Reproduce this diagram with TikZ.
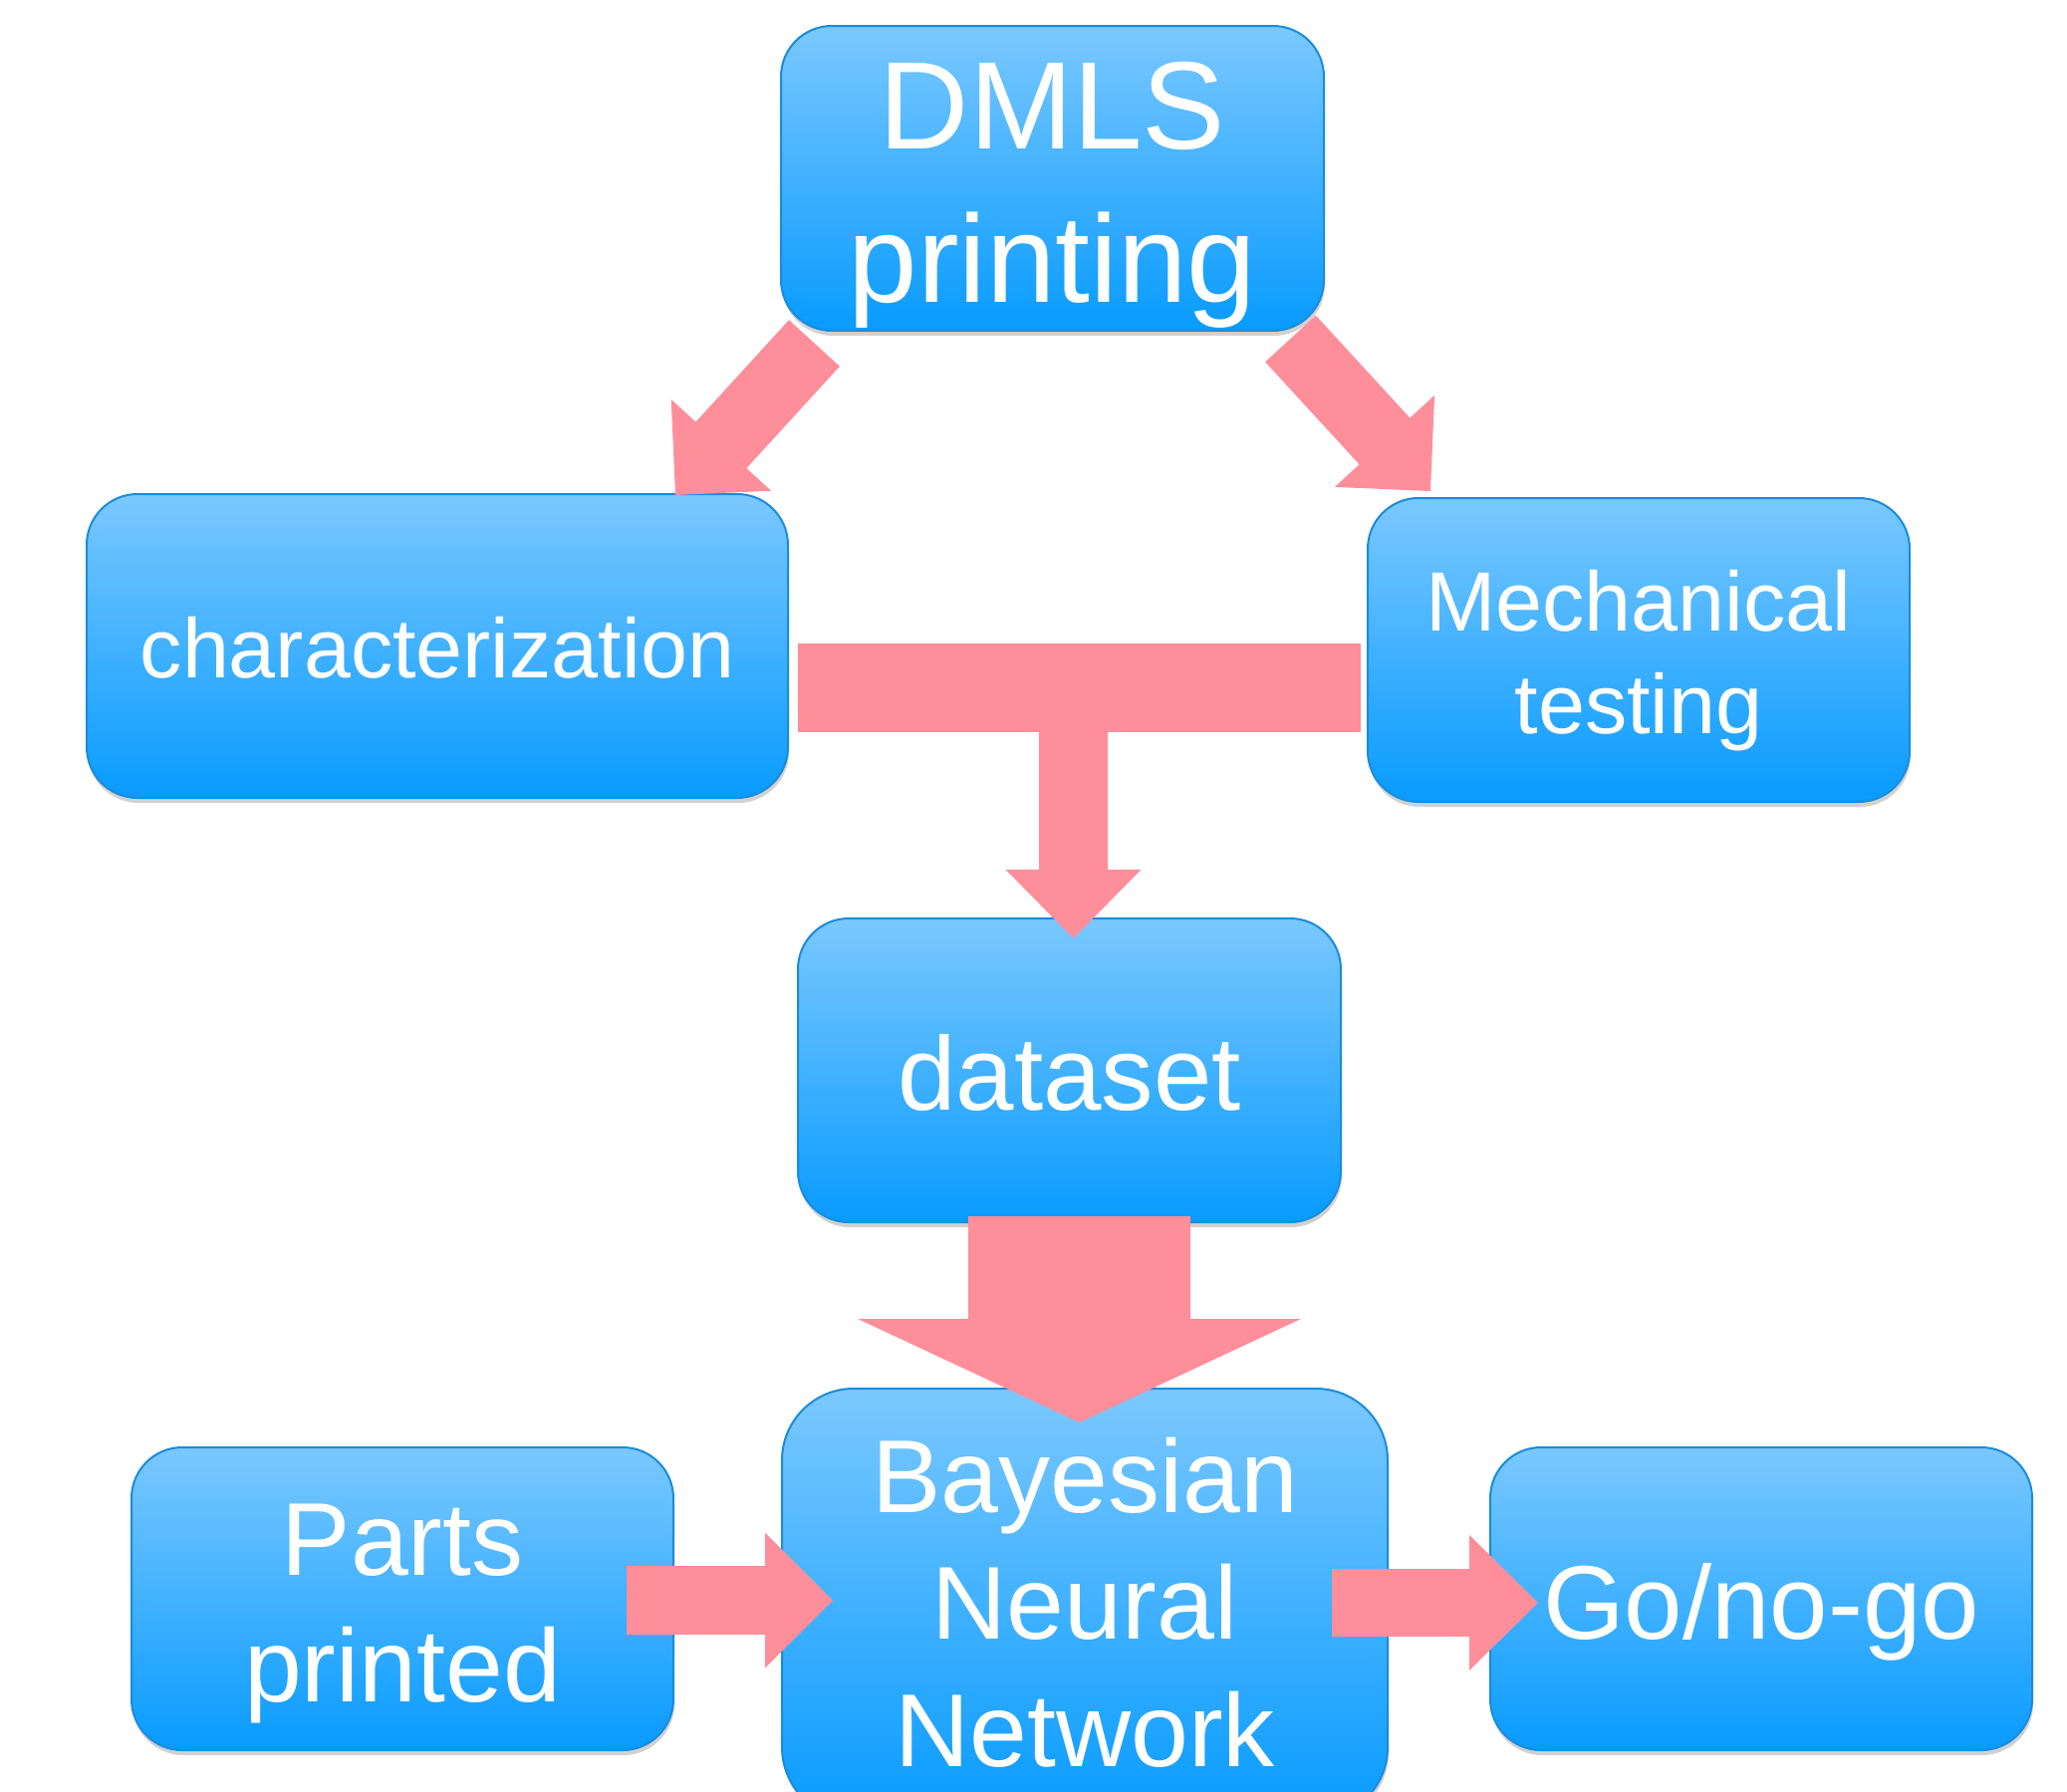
\documentclass[tikz,border=0pt]{standalone}
\usepackage{fontspec}
\setmainfont{Liberation Sans}
\usetikzlibrary{calc,shadows}
\definecolor{boxtop}{RGB}{123,200,255}
\definecolor{boxbot}{RGB}{8,155,255}
\definecolor{boxline}{RGB}{25,140,220}
\definecolor{arrowpink}{RGB}{255,142,155}
\newcommand{\btext}[2]{\raisebox{-#1pt}[0pt][0pt]{\begin{tabular}[b]{@{}c@{}}#2\end{tabular}}}
\tikzset{
  flowbox/.style={rectangle, draw=boxline, line width=2pt, top color=boxtop,
    bottom color=boxbot, text=white, inner sep=0pt, rounded corners=51pt,
    drop shadow={shadow xshift=1pt, shadow yshift=-5pt, opacity=0.18, fill=black}},
  pinkarrow/.style={fill=arrowpink, draw=none},
  blockarrow/.style n args={3}{
    to path={
      let \p1=(\tikztostart), \p2=(\tikztotarget),
          \n1={atan2(\y2-\y1,\x2-\x1)},
          \n2={veclen(\x2-\x1,\y2-\y1)-#3}
      in
      ({\x1-sin(\n1)*#1/2},{\y1+cos(\n1)*#1/2})
      -- ({\x1+cos(\n1)*\n2-sin(\n1)*#1/2},{\y1+sin(\n1)*\n2+cos(\n1)*#1/2})
      -- ({\x1+cos(\n1)*\n2-sin(\n1)*#2/2},{\y1+sin(\n1)*\n2+cos(\n1)*#2/2})
      -- (\p2)
      -- ({\x1+cos(\n1)*\n2+sin(\n1)*#2/2},{\y1+sin(\n1)*\n2-cos(\n1)*#2/2})
      -- ({\x1+cos(\n1)*\n2+sin(\n1)*#1/2},{\y1+sin(\n1)*\n2-cos(\n1)*#1/2})
      -- ({\x1+sin(\n1)*#1/2},{\y1-cos(\n1)*#1/2})
      -- cycle
    }
  }
}
\begin{document}
\begin{tikzpicture}[x=1pt,y=-1pt]
\useasboundingbox (0,0) rectangle (2075,1799);
\clip (0,0) rectangle (2075,1799);

% boxes
\node[flowbox, minimum width=545pt, minimum height=306pt,
      font=\fontsize{125}{154}\selectfont] (dmls) at (1056.5,179)
      {\btext{124}{DMLS\\printing}};
\node[flowbox, minimum width=704pt, minimum height=305pt,
      font=\fontsize{84.5}{101}\selectfont] (char) at (439,648.5)
      {\btext{31.5}{characterization}};
\node[flowbox, minimum width=544pt, minimum height=305pt,
      font=\fontsize{84.5}{103}\selectfont] (mech) at (1645,652.5)
      {\btext{83.5}{Mechanical\\testing}};
\node[flowbox, minimum width=545pt, minimum height=305pt,
      font=\fontsize{105}{126}\selectfont] (data) at (1073.5,1074.5)
      {\btext{39.5}{dataset}};
\node[flowbox, minimum width=544pt, minimum height=304pt,
      font=\fontsize{104}{127}\selectfont] (parts) at (404,1605)
      {\btext{103}{Parts\\printed}};
\node[flowbox, rounded corners=72pt, minimum width=608pt, minimum height=432pt,
      font=\fontsize{104}{127.5}\selectfont] (bnn) at (1089,1610)
      {\btext{163}{Bayesian\\Neural\\Network}};
\node[flowbox, minimum width=544pt, minimum height=304pt,
      font=\fontsize{105}{126}\selectfont] (go) at (1768,1605)
      {\btext{40}{Go/no-go}};

% connector end points
\coordinate (dl1) at (817.5,344.5);  \coordinate (dl2) at (678,497);
\coordinate (dr1) at (1295.5,340);   \coordinate (dr2) at (1436,493);
\coordinate (tbarNW) at (801,646);   \coordinate (tbarSE) at (1365.5,735);
\coordinate (ts1) at (1077.5,700);   \coordinate (ts2) at (1077.5,942);
\coordinate (bg1) at (1083.5,1221);  \coordinate (bg2) at (1083.5,1428);
\coordinate (hl1) at (629,1606.5);   \coordinate (hl2) at (836,1606.5);
\coordinate (hr1) at (1337,1609);    \coordinate (hr2) at (1544,1609);

% connectors
\fill[pinkarrow, blockarrow={69}{136}{68}] (dl1) to (dl2);
\fill[pinkarrow, blockarrow={69}{136}{68}] (dr1) to (dr2);
\fill[pinkarrow] (tbarNW) rectangle (tbarSE);
\fill[pinkarrow, blockarrow={69}{136}{69}] (ts1) to (ts2);
\fill[pinkarrow, blockarrow={223}{445}{104}] (bg1) to (bg2);
\fill[pinkarrow, blockarrow={69}{136}{68}] (hl1) to (hl2);
\fill[pinkarrow, blockarrow={68}{136}{69}] (hr1) to (hr2);
\end{tikzpicture}
\end{document}
